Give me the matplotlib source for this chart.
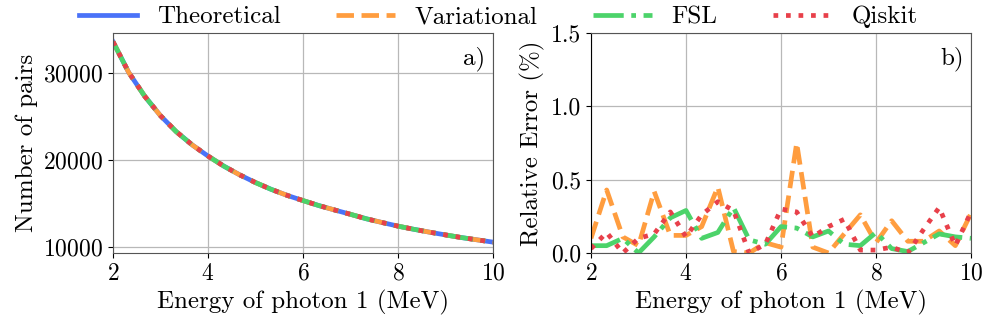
import numpy as np
import matplotlib
matplotlib.use("Agg")
import matplotlib.pyplot as plt

# DATA
energy = [2.00, 2.33, 2.67, 3.00, 3.33, 3.67, 4.00, 4.33, 4.67, 5.00,
          5.33, 5.67, 6.00, 6.33, 6.67, 7.00, 7.33, 7.67, 8.00, 8.33,
          8.67, 9.00, 9.33, 9.67, 10.00]

pairs_theory = [33600, 30070, 27310, 25090, 23260, 21720, 20450, 19300, 18280, 17400,
                16620, 15920, 15330, 14760, 14240, 13750, 13240, 12800, 12390, 12030,
                11690, 11380, 11080, 10810, 10550]

err_variational = [0.10, 0.43, 0.11, 0.05, 0.42, 0.12, 0.12, 0.18, 0.45, 0.01,
                   0.00, 0.07, 0.04, 0.75, 0.04, 0.00, 0.13, 0.26, 0.07, 0.22,
                   0.08, 0.08, 0.15, 0.05, 0.27]
err_fsl = [0.05, 0.05, 0.10, 0.00, 0.11, 0.24, 0.29, 0.10, 0.14, 0.31,
           0.09, 0.06, 0.18, 0.17, 0.11, 0.15, 0.06, 0.05, 0.14, 0.03,
           0.01, 0.07, 0.13, 0.11, 0.10]
err_qiskit = [0.03, 0.14, 0.00, 0.10, 0.13, 0.28, 0.11, 0.26, 0.35, 0.29,
              0.00, 0.06, 0.30, 0.28, 0.11, 0.18, 0.23, 0.02, 0.02, 0.04,
              0.00, 0.16, 0.31, 0.05, 0.28]

labels = ["Theoretical", "Variational", "FSL", "Qiskit"]

# STYLE
plt.rcParams["font.family"] = ["cmr10", "DejaVu Serif"]
plt.rcParams["mathtext.fontset"] = "cm"
plt.rcParams["axes.formatter.use_mathtext"] = True
plt.rcParams["font.size"] = 18
plt.rcParams["xtick.labelsize"] = 17
plt.rcParams["ytick.labelsize"] = 17

C_THEO = "#4a72f8"
C_VAR  = "#ff9d3f"
C_FSL  = "#4cd36a"
C_QIS  = "#e8404a"
LW = 3.4

fig = plt.figure(figsize=(9.96, 3.32), dpi=100)
ax1 = fig.add_axes([113/996, 79/332, 380/996, 220/332])
ax2 = fig.add_axes([591/996, 79/332, 380/996, 220/332])

# a) number of pairs
h1, = ax1.plot(energy, pairs_theory, color=C_THEO, lw=LW, ls="-")
h2, = ax1.plot(energy, pairs_theory, color=C_VAR, lw=LW, ls="--")
h3, = ax1.plot(energy, pairs_theory, color=C_FSL, lw=LW, ls="-.")
h4, = ax1.plot(energy, pairs_theory, color=C_QIS, lw=LW, ls=":")
ax1.set_xlim(2, 10)
ax1.set_ylim(9300, 34600)
ax1.set_yticks([10000, 20000, 30000])
ax1.set_xticks([2, 4, 6, 8, 10])
ax1.set_xlabel("Energy of photon 1 (MeV)")
ax1.set_ylabel("Number of pairs")
ax1.grid(True, color="#b8b8b8", lw=0.9)
ax1.text(0.98, 0.94, "a)", transform=ax1.transAxes, ha="right", va="top", fontsize=18)

# b) relative error
ax2.plot(energy, err_variational, color=C_VAR, lw=LW, ls="--")
ax2.plot(energy, err_fsl, color=C_FSL, lw=LW, ls="-.")
ax2.plot(energy, err_qiskit, color=C_QIS, lw=LW, ls=":")
ax2.set_xlim(2, 10)
ax2.set_ylim(0, 1.5)
ax2.set_yticks([0.0, 0.5, 1.0, 1.5])
ax2.set_yticklabels(["0.0", "0.5", "1.0", "1.5"])
ax2.set_xticks([2, 4, 6, 8, 10])
ax2.set_xlabel("Energy of photon 1 (MeV)")
ax2.set_ylabel("Relative Error (%)")
ax2.grid(True, color="#b8b8b8", lw=0.9)
ax2.text(0.98, 0.94, "b)", transform=ax2.transAxes, ha="right", va="top", fontsize=18)

for ax in (ax1, ax2):
    for s in ax.spines.values():
        s.set_color("#555555")
ax2.spines["left"].set_color("black")

fig.legend([h1, h2, h3, h4], labels, loc="center", ncol=4, frameon=False,
           bbox_to_anchor=(0.5, 1 - 17/332), handlelength=2.35, handletextpad=0.8,
           columnspacing=2.2, fontsize=18)

fig.savefig("out.png", dpi=100)
